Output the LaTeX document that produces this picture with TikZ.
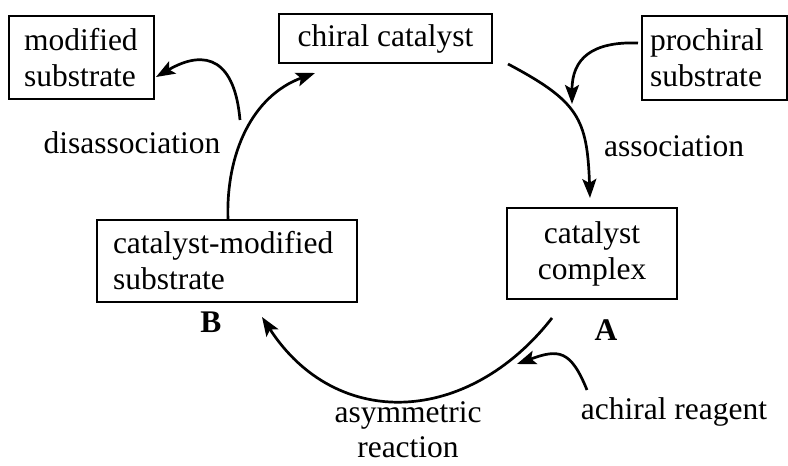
\documentclass[tikz,border=0pt]{standalone}
\usepackage{fontspec}
\setmainfont{Liberation Serif}
\usetikzlibrary{arrows.meta}
\tikzset{
  stage/.style={draw, line width=2.7pt, inner ysep=0pt},
  flow/.style={line width=2.7pt, -{Stealth[length=19pt,width=14pt,inset=4pt]}},
  lbl/.style={anchor=base, inner sep=0pt},
}

\begin{document}
\begin{tikzpicture}[x=1pt,y=1pt,font=\fontsize{31.5}{36}\selectfont]
\useasboundingbox (0,0) rectangle (788,466);

% ---------- the boxes
\node[stage, align=left, inner xsep=15pt, text width=115pt, minimum height=83pt] (modsub) at (81.5,408.5) {modified\\substrate};
\node[stage, align=center, minimum width=213pt, minimum height=49pt] (chiral) at (385.5,427.5) {chiral catalyst};
\node[stage, align=left, inner xsep=8pt, text width=129pt, minimum height=84pt] (prochiral) at (714.5,408) {prochiral\\substrate};
\node[stage, align=center, inner xsep=10pt, text width=150pt, minimum height=91pt] (complex) at (592,212.5) {catalyst\\complex};
\node[stage, align=left, inner xsep=16pt, text width=228pt, minimum height=82pt] (catmod) at (227,205) {catalyst-modified\\substrate};

% ---------- labels
\node[lbl] (disassoc) at (132,312) {disassociation};
\node[lbl] (assoc) at (674,309) {association};
\node[lbl, align=center, text width=170pt, font=\fontsize{31.5}{35}\selectfont] (asym) at (408,43) {asymmetric\\reaction};
\node[lbl] (achiral) at (674,46) {achiral reagent};
\node[lbl, font=\fontsize{31.5}{36}\selectfont\bfseries] (labA) at (606,125) {A};
\node[lbl, font=\fontsize{31.5}{36}\selectfont\bfseries] (labB) at (211,133) {B};

% ---------- free ends of the arcs
\coordinate (cat-out) at (508,402);  % leaving the chiral catalyst
\coordinate (cplx-in) at (590,268);  % arriving at the complex
\coordinate (cplx-out) at (552,148);
\coordinate (sub-in) at (262,149);
\coordinate (sub-out) at (228,246);
\coordinate (cat-in) at (315,393);
\coordinate (dis-out) at (240,346);  % side arrow to the modified substrate
\coordinate (mod-in) at (156,389);
\coordinate (pro-out) at (638,423);  % prochiral substrate joins
\coordinate (pro-in) at (572,362);
\coordinate (ach-out) at (587,76);   % achiral reagent joins
\coordinate (ach-in) at (517,102);

% ---------- the cycle
\draw[flow] (cat-out) to[out=-28,in=92,looseness=1.3] (cplx-in);
\draw[flow] (cplx-out) to[out=232,in=-57,looseness=1.2] (sub-in);
\draw[flow] (sub-out) to[out=92,in=200,looseness=1] (cat-in);

% ---------- side arrows
\draw[flow] (dis-out) to[out=95,in=30,looseness=1.6] (mod-in);
\draw[flow] (pro-out) to[out=178,in=90,looseness=1.3] (pro-in);
\draw[flow] (ach-out) to[out=112,in=20,looseness=1.5] (ach-in);
\end{tikzpicture}
\end{document}
